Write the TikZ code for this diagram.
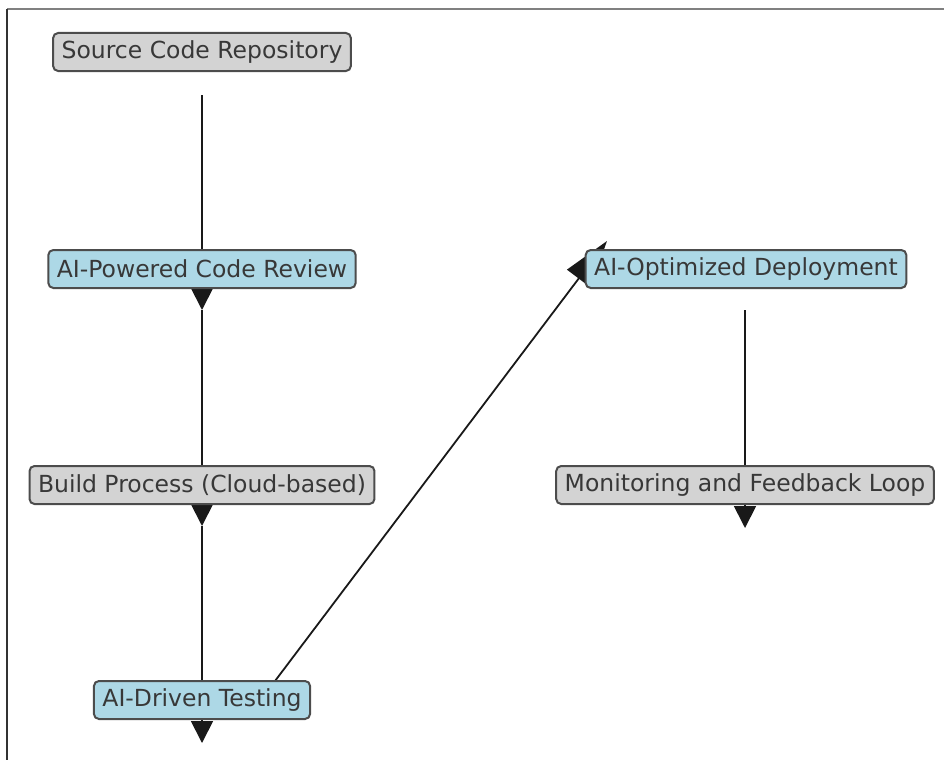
\documentclass[tikz,border=0pt]{standalone}
\usepackage{fontspec}
\setmainfont{DejaVu Sans}
\usetikzlibrary{arrows.meta, backgrounds}

\definecolor{stagegrey}{HTML}{D3D3D3}
\definecolor{stageblue}{HTML}{ADD8E6}

\begin{document}
\begin{tikzpicture}[x=1pt, y=-1pt,
    stage/.style={draw=black!70, line width=2pt, rounded corners=5pt, text=black!78,
        font=\fontsize{23.5}{28}\selectfont, inner xsep=8.5pt, minimum height=38pt},
    plainstage/.style={stage, fill=stagegrey},
    aistage/.style={stage, fill=stageblue},
    flow/.style={-{Triangle[length=22pt, width=22pt]}, line width=1.8pt, black!90},
    longflow/.style={flow, -{Triangle[length=47pt, width=29pt]}}]
    \useasboundingbox (0,0) rectangle (944,760);

    % frame (only top and left edges show)
    \draw[black!50, line width=1.5pt] (7,9) -- (944,9);
    \draw[black!80, line width=1.5pt] (7,9) -- (7,760);

    % pipeline stages
    \node[plainstage] (repo) at (202,52) {Source Code Repository};
    \node[aistage] (review) at (202,269) {AI-Powered Code Review};
    \node[plainstage] (build) at (202,485) {Build Process (Cloud-based)};
    \node[aistage] (testing) at (202,700) {AI-Driven Testing};
    \node[aistage] (deploy) at (746,269) {AI-Optimized Deployment};
    \node[plainstage] (monitor) at (745,485) {Monitoring and Feedback Loop};

    % connectors sit behind the boxes
    \begin{scope}[on background layer]
        \draw[flow] ([yshift=-43pt]repo.center) -- ([yshift=-41pt]review.center);
        \draw[flow] ([yshift=-41pt]review.center) -- ([yshift=-41pt]build.center);
        \draw[flow] ([yshift=-41pt]build.center) -- ([yshift=-43pt]testing.center);
        \draw[longflow] ([xshift=73pt, yshift=19pt]testing.center) -- ([xshift=-139pt, yshift=28pt]deploy.center);
        \draw[flow] ([xshift=-1pt, yshift=-41pt]deploy.center) -- ([yshift=-43pt]monitor.center);
    \end{scope}
\end{tikzpicture}
\end{document}
